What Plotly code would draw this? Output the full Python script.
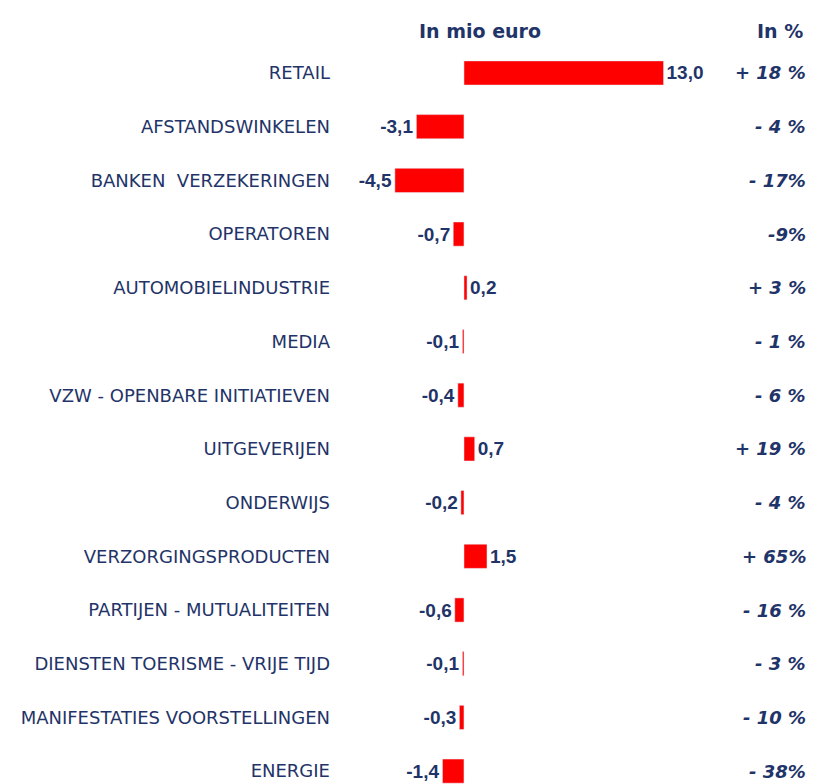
import plotly.graph_objects as go

sectors = ["RETAIL", "AFSTANDSWINKELEN", "BANKEN  VERZEKERINGEN", "OPERATOREN",
           "AUTOMOBIELINDUSTRIE", "MEDIA", "VZW - OPENBARE INITIATIEVEN",
           "UITGEVERIJEN", "ONDERWIJS", "VERZORGINGSPRODUCTEN",
           "PARTIJEN - MUTUALITEITEN", "DIENSTEN TOERISME - VRIJE TIJD",
           "MANIFESTATIES VOORSTELLINGEN", "ENERGIE"]
mio_euro = [13.0, -3.1, -4.5, -0.7, 0.2, -0.1, -0.4, 0.7, -0.2, 1.5, -0.6, -0.1, -0.3, -1.4]
pct_labels = ["+ 18 %", "- 4 %", "- 17%", "-9%", "+ 3 %", "- 1 %", "- 6 %",
              "+ 19 %", "- 4 %", "+ 65%", "- 16 %", "- 3 %", "- 10 %", "- 38%"]

navy = "#1F3468"

fig = go.Figure(go.Bar(
    x=mio_euro, y=sectors, orientation="h",
    marker_color="#FF0000", width=0.45,
    texttemplate="%{x:.1f}", textposition="outside", constraintext="none",
    textfont=dict(family="Liberation Sans", size=19, color=navy, weight="bold"),
    cliponaxis=False,
))

for s, p in zip(sectors, pct_labels):
    fig.add_annotation(x=1, xref="paper", y=s, yref="y", text=p, showarrow=False,
                       xanchor="right", xshift=-6,
                       font=dict(family="DejaVu Sans", size=18, color=navy,
                                 weight="bold", style="italic"))

fig.add_annotation(x=1.04, xref="x", y=1 - 10 / 776, yref="paper", text="In mio euro",
                   showarrow=False, font=dict(family="DejaVu Sans", size=19, color=navy, weight="bold"))
fig.add_annotation(x=1, xref="paper", y=1 - 10 / 776, yref="paper", text="In %",
                   showarrow=False, xanchor="right", xshift=-9,
                   font=dict(family="DejaVu Sans", size=19, color=navy, weight="bold"))

fig.update_layout(
    width=806, height=776, margin=dict(l=331, r=0, t=0, b=0),
    paper_bgcolor="white", plot_bgcolor="white", showlegend=False,
    separators=",.",
    xaxis=dict(range=[-8.14, 22.8], visible=False, fixedrange=True),
    yaxis=dict(range=[13.24, -1.21], showgrid=False, zeroline=False, ticks="",
               ticklabelstandoff=8,
               tickfont=dict(family="DejaVu Sans", size=18, color=navy)),
)

fig.write_html("out.html")
